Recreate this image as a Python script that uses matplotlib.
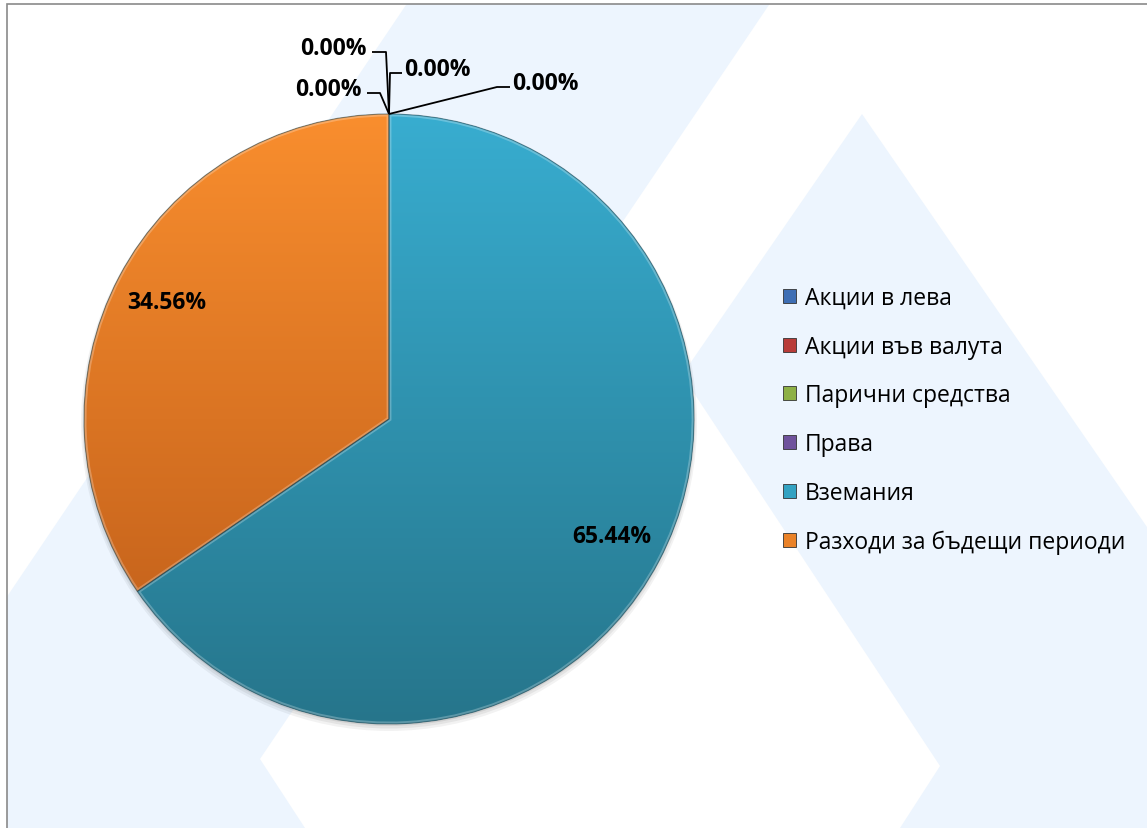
import numpy as np
import matplotlib
matplotlib.use('Agg')
import matplotlib.pyplot as plt
from matplotlib.patches import Polygon, Patch, Circle, Rectangle, Wedge
from matplotlib.colors import LinearSegmentedColormap

# --- data ---
categories = ['Акции в лева', 'Акции във валута', 'Парични средства',
              'Права', 'Вземания', 'Разходи за бъдещи периоди']
shares = [0.0, 0.0, 0.0, 0.0, 65.44, 34.56]

# base colours + vertical gradient ends (top / bottom of the pie)
colors = ['#3E6EB4', '#B83C39', '#8DB045', '#6F529C', '#33A2C2', '#EA8228']
grad_top = ['#4F81BD', '#C0504D', '#9BBB59', '#8064A2', '#38ADD0', '#F98E2E']
grad_bottom = ['#385D8A', '#8C3836', '#71893F', '#5C4776', '#26758B', '#BB5A18']

W, H = 1147, 829
plt.rcParams['font.family'] = ['Open Sans', 'DejaVu Sans']

fig = plt.figure(figsize=(W / 100, H / 100), dpi=100)
ax = fig.add_axes([0, 0, 1, 1])

# --- background watermark (light logo shapes) ---
wm = '#EDF5FE'
band = [(410, 0), (773, 0), (260, 760), (305, 829), (0, 829), (0, 608)]
tri = [(862, 115), (1147, 528), (1147, 829), (900, 829), (940, 767), (682, 376)]
for poly in (band, tri):
    ax.add_patch(Polygon([(x, H - y) for x, y in poly], closed=True,
                         fc=wm, ec='none', zorder=0))
# white margin outside chart border
ax.add_patch(Rectangle((0, H - 5), W, 5, fc='white', ec='none', zorder=0.5))
ax.add_patch(Rectangle((0, 0), 7, H, fc='white', ec='none', zorder=0.5))
ax.plot([7, 7, W], [0, H - 5, H - 5], color='#8a8a8a', lw=1.2, zorder=0.6,
        solid_joinstyle='miter')

# --- pie ---
cx, cy, r = 389, H - 420, 305

# soft shadow under the pie
for k, a in enumerate([0.05, 0.06, 0.08]):
    ax.add_patch(Circle((cx, cy - 4 + k), r + 3 - k * 1.5, fc='black',
                        ec='none', alpha=a, zorder=1))

wedges, texts, autotexts = ax.pie(
    shares, colors=colors, startangle=90, counterclock=False,
    center=(cx, cy), radius=r,
    autopct=lambda p: f'{p:.2f}%' if p > 0 else '',
    pctdistance=0.825,
    textprops=dict(fontsize=16.5, fontweight='bold', color='black'),
    wedgeprops=dict(linewidth=0))

grad = np.linspace(0, 1, 256).reshape(-1, 1)
for i, w in enumerate(wedges):
    w.set_zorder(2)
    if shares[i] <= 0:
        continue
    cmap = LinearSegmentedColormap.from_list('g%d' % i, [grad_bottom[i], grad_top[i]])
    im = ax.imshow(grad, cmap=cmap, extent=(cx - r, cx + r, cy - r, cy + r),
                   origin='lower', aspect='auto', zorder=2.1, interpolation='bilinear')
    im.set_clip_path(w)
    # bevel-ish rim
    rim = Wedge((cx, cy), r, w.theta1, w.theta2,
                fc='none', ec='white', lw=3.5, alpha=0.25, zorder=2.2)
    ax.add_patch(rim)
    rim.set_clip_path(w)
    ax.add_patch(Wedge((cx, cy), r, w.theta1, w.theta2,
                       fc='none', ec='#1c3f4a', lw=0.8, alpha=0.55, zorder=2.3))

for t in autotexts:
    t.set_zorder(3)

# leader labels for the zero slices (elbow / end offsets in px from slice point)
zero_layout = [((108, 27), (121, 27), 'left'),
               ((1, 41), (13, 41), 'left'),
               ((-3, 62), (-17, 62), 'right'),
               ((-9, 21), (-22, 21), 'right')]
zi = 0
for i, w in enumerate(wedges):
    if shares[i] > 0:
        continue
    th = np.deg2rad(w.theta1)
    px, py = cx + r * np.cos(th), cy + r * np.sin(th)
    (ex, ey), (tx, ty), ha = zero_layout[zi]
    ax.plot([px, px + ex, px + tx], [py, py + ey, py + ty], color='black',
            lw=1.3, zorder=3, solid_capstyle='butt')
    off = 2 if ha == 'left' else -5
    ax.text(px + tx + off, py + ty + 4.5, f'{shares[i]:.2f}%', ha=ha, va='center',
            fontsize=16.5, fontweight='bold', zorder=3)
    zi += 1

# --- legend ---
handles = [Patch(facecolor=c, edgecolor='#333333', linewidth=0.6) for c in colors]
ax.legend(handles, categories, loc='center left',
          bbox_to_anchor=(783 / W, 1 - 421 / H), frameon=False,
          prop=dict(family=['Open Sans', 'DejaVu Sans'], size=16.5),
          handlelength=0.57, handleheight=0.57, handletextpad=0.4,
          labelspacing=1.08, borderpad=0, borderaxespad=0)

ax.set_xlim(0, W)
ax.set_ylim(0, H)
ax.set_aspect('auto')
ax.axis('off')

fig.savefig('out.png', dpi=100, facecolor='white')
